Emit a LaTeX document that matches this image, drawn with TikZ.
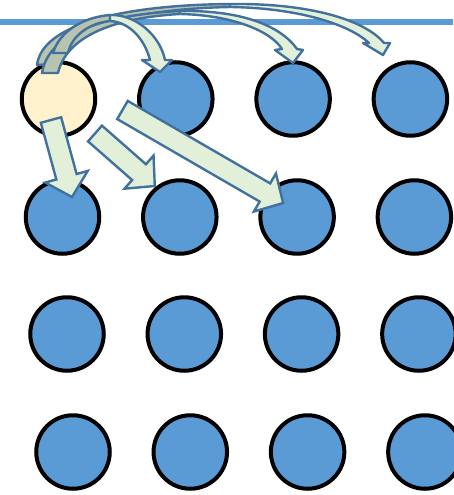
\documentclass[tikz,border=0pt]{standalone}
\usetikzlibrary{calc}
\definecolor{dotblue}{HTML}{5B9BD5}
\definecolor{dotcream}{HTML}{FFF2CC}
\definecolor{arrowfill}{HTML}{E2F0D9}
\definecolor{arrowback}{HTML}{B8C4B0}
\definecolor{arrowline}{HTML}{41719C}

% 直的块状箭头: #1 尾部中点, #2 箭尖
\newcommand{\blockarrow}[2]{%
  \coordinate (hb) at ($(#2)!21pt!(#1)$);
  \draw[blockarrow] ($(#1)!10.5pt!-90:(#2)$) -- ($(hb)!10.5pt!90:(#1)$) -- ($(hb)!22pt!90:(#1)$) -- (#2)
    -- ($(hb)!22pt!-90:(#1)$) -- ($(hb)!10.5pt!-90:(#1)$) -- ($(#1)!10.5pt!90:(#2)$) -- cycle;}

\begin{document}
\begin{tikzpicture}[
    x=1pt, y=-1pt,
    % 样式
    dot/.style={circle, draw=black, line width=4pt, minimum size=73.5pt, inner sep=0pt},
    blockarrow/.style={draw=arrowline, line width=2.4pt, fill=arrowfill, line join=miter},
    curvefront/.style={draw=arrowline, line width=2.4pt, fill=arrowfill, line join=round},
    curveback/.style={draw=arrowline, line width=2.4pt, fill=arrowback, line join=round}
]
    \useasboundingbox (0,0) rectangle (453,495);

    % --- 顶部横线 ---
    \coordinate (la) at (0,22);
    \coordinate (lb) at (453,22);
    \draw[line width=5.5pt, dotblue] (la) -- (lb);

    % --- 圆点阵列 ---
    \foreach \r/\dx/\y in {1/0/99, 2/4/217, 3/8.5/334, 4/14.5/452}
      \foreach \c in {1,...,4} {
        \ifnum\r\c=11 \def\dotcol{dotcream}\else\def\dotcol{dotblue}\fi
        \node[dot, fill=\dotcol] (c\r\c) at ({58.5+117.3*(\c-1)+\dx}, \y) {};
      }

    % --- 直箭头 ---
    \coordinate (s1) at ([shift={(-7.5,21)}]c11.center);
    \coordinate (e1) at ([shift={(9.5,-20)}]c21.center);
    \coordinate (s2) at ([shift={(36.5,34.5)}]c11.center);
    \coordinate (e2) at ([shift={(-25,-31)}]c22.center);
    \coordinate (s3) at ([shift={(64,11)}]c11.center);
    \coordinate (e3) at ([shift={(-14,-14)}]c23.center);
    \blockarrow{s1}{e1}
    \blockarrow{s2}{e2}
    \blockarrow{s3}{e3}

    % --- 弯箭头 (c11 -> c14) ---
    \draw[curveback] (37,65) .. controls (42,25) and (120,5) .. (230,4) -- (230,7)
        .. controls (130,9) and (62,30) .. (53,64) -- cycle;
    \draw[curvefront] (230,4) .. controls (310,3) and (365,20) .. (384,43) -- (390,43) -- (383,55) -- (363,43)
        -- (369,43) .. controls (350,25) and (300,8) .. (230,7) -- cycle;

    % --- 弯箭头 (c11 -> c13) ---
    \draw[curveback] (42,73) .. controls (48,35) and (100,15) .. (180,11) -- (180,14)
        .. controls (110,18) and (66,38) .. (58,73) -- cycle;
    \draw[curvefront] (180,11) .. controls (240,10) and (280,25) .. (297,49) -- (303,50) -- (293,63) -- (275,50)
        -- (282,49) .. controls (270,30) and (230,15) .. (180,14) -- cycle;

    % --- 弯箭头 (c11 -> c12) ---
    \draw[curveback] (53,53) .. controls (60,30) and (85,17) .. (110,15) -- (110,21)
        .. controls (90,23) and (72,35) .. (68,53) -- cycle;
    \draw[curvefront] (110,15) .. controls (135,14) and (160,35) .. (165,60) -- (172,60) -- (160,72) -- (142,60)
        -- (150,60) .. controls (145,40) and (130,22) .. (110,21) -- cycle;

\end{tikzpicture}
\end{document}
